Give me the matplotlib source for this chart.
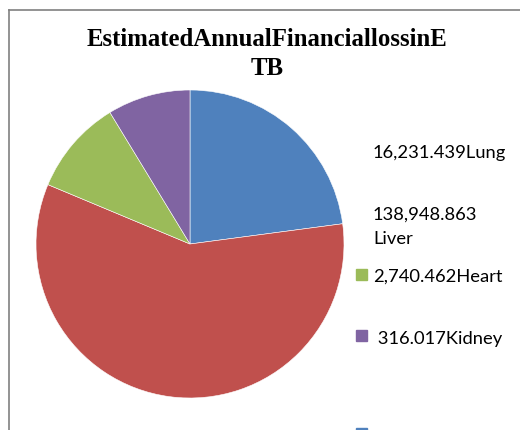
"""Estimated annual financial loss in ETB – pie chart recreation."""

import matplotlib
matplotlib.use("Agg")
import matplotlib.pyplot as plt
from matplotlib.lines import Line2D
from matplotlib.patches import Rectangle

# ── Data ─────────────────────────────────────────────────────────────────────

ORGANS  = ["Lung", "Liver", "Heart", "Kidney"]
# slice shares as drawn in the picture (percent)
SHARES  = [22.9, 58.4, 10.0, 8.7]
COLORS  = ["#4F81BD", "#C0504D", "#9BBB59", "#8064A2"]
LEGEND_TEXT = ["16,231.439Lung", "138,948.863\nLiver",
               "2,740.462Heart", " 316.017Kidney"]

TITLE = "EstimatedAnnualFinanciallossinE\nTB"

W, H = 520, 430

# ── Figure ───────────────────────────────────────────────────────────────────

fig = plt.figure(figsize=(W / 100, H / 100), dpi=100)

def px(x, y):
    return x / W, 1 - y / H

# pie axes: centre (190, 244) px, radius 154 px
cx, cy, r = 190, 244, 154
ax = fig.add_axes([(cx - r) / W, (H - cy - r) / H, 2 * r / W, 2 * r / H])
ax.pie(SHARES, colors=COLORS, startangle=90, counterclock=False, radius=1,
       wedgeprops=dict(edgecolor="white", linewidth=0.4))
ax.set_xlim(-1, 1)
ax.set_ylim(-1, 1)
ax.axis("off")

# chart frame (only top and left edges visible in crop)
fig.add_artist(Line2D([9 / W, 1], [1 - 10 / H] * 2, color="#808080", lw=1.2,
                      transform=fig.transFigure))
fig.add_artist(Line2D([9 / W] * 2, [1 - 10 / H, 0], color="#808080", lw=1.2,
                      transform=fig.transFigure))

# title
fig.text(*px(267, 54), TITLE, ha="center", va="center", fontsize=17.8,
         fontweight="bold", family="Liberation Serif", linespacing=1.35)

# legend
text_pos = [(373, 153), (373, 227), (373, 277), (373, 339)]
marker_y = {2: 274, 3: 335}
for i, (tx, ty) in enumerate(text_pos):
    fig.text(*px(tx, ty), LEGEND_TEXT[i], ha="left", va="center",
             fontsize=13.2, family="Lato", linespacing=1.6)
    if i in marker_y:
        my = marker_y[i]
        fig.add_artist(Rectangle(px(356, my + 5.5), 11 / W, 11 / H,
                                 color=COLORS[i], transform=fig.transFigure))

# stray blue marker cut off at bottom edge
fig.add_artist(Rectangle(px(356, 431), 11 / W, 3 / H, color=COLORS[0],
                         transform=fig.transFigure))

fig.savefig("out.png", dpi=100)
